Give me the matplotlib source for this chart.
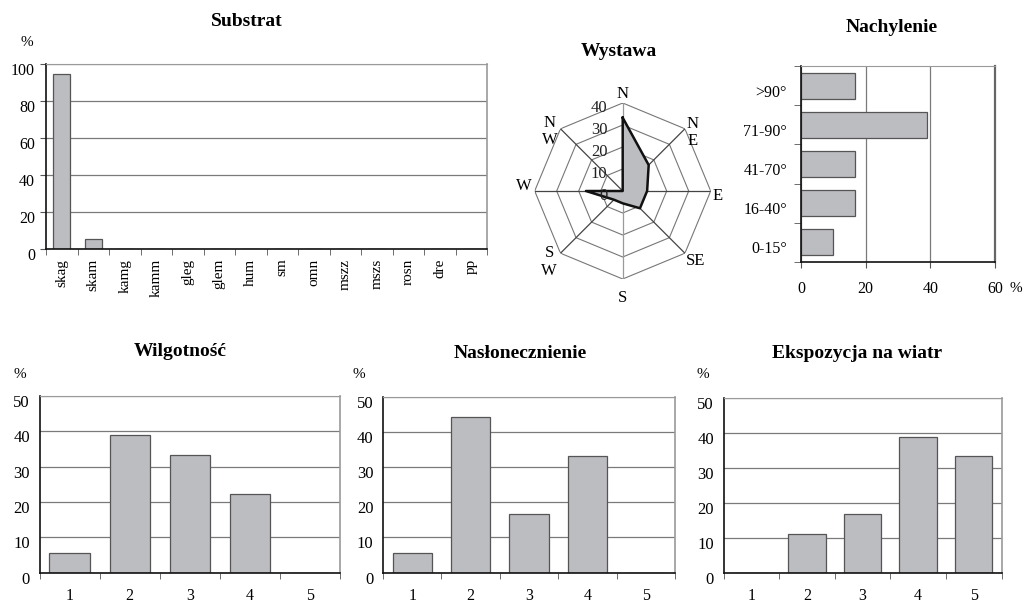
import numpy as np
import matplotlib
matplotlib.use("Agg")
import matplotlib.pyplot as plt
from matplotlib import transforms

plt.rcParams['font.family'] = ['Liberation Serif', 'DejaVu Serif']

# ---- data ----
substrat_labels = ["skag", "skam", "kamg", "kamm", "gleg", "glem", "hum", "sm",
                   "omn", "mszz", "mszs", "rosn", "dre", "pp"]
substrat_values = [94.4, 5.6, 0, 0, 0, 0, 0, 0, 0, 0, 0, 0, 0, 0]

wystawa_labels = ["N", "N\nE", "E", "SE", "S", "S\nW", "W", "N\nW"]
wystawa_values = [33.3, 16.7, 11.1, 11.1, 5.6, 5.6, 16.7, 0.0]
wystawa_rings = [10, 20, 30, 40]

nachylenie_labels = ["0-15°", "16-40°", "41-70°", "71-90°", ">90°"]
nachylenie_values = [10.0, 16.7, 16.7, 38.9, 16.7]

klasy = ["1", "2", "3", "4", "5"]
wilgotnosc_values = [5.6, 38.9, 33.3, 22.2, 0]
naslonecznienie_values = [5.6, 44.4, 16.7, 33.3, 0]
wiatr_values = [0, 11.1, 16.7, 38.9, 33.3]

# ---- styling ----
W, H = 1031, 603
BAR = "#bcbdc1"
EDGE = "#555555"
GRID = "#7a7a7a"

fig = plt.figure(figsize=(W / 100, H / 100), dpi=100)
# value labels sit slightly below their gridline
LABEL_DROP = transforms.ScaledTranslation(0, -5 / 100, fig.dpi_scale_trans)


def rect(left, top, right, bottom):
    return [left / W, 1 - bottom / H, (right - left) / W, (bottom - top) / H]


def ftext(x, y, s, **kw):
    fig.text(x / W, 1 - y / H, s, **kw)


def drop_ylabels(ax):
    for lab in ax.get_yticklabels():
        lab.set_transform(lab.get_transform() + LABEL_DROP)


def style_box(ax):
    ax.spines['left'].set_color('#111111')
    ax.spines['bottom'].set_color('#111111')
    ax.spines['left'].set_linewidth(1.2)
    ax.spines['bottom'].set_linewidth(1.2)
    ax.spines['top'].set_color('#9a9a9a')
    ax.spines['right'].set_color('#9a9a9a')
    ax.spines['right'].set_linewidth(1.2)
    ax.set_axisbelow(True)


# ---- Substrat ----
ax = fig.add_axes(rect(46, 64, 487, 249))
x = np.arange(len(substrat_labels))
ax.bar(x, substrat_values, width=0.55, color=BAR, edgecolor=EDGE, linewidth=0.9)
ax.set_xlim(-0.5, len(substrat_labels) - 0.5)
ax.set_ylim(0, 100)
ax.set_yticks(range(0, 101, 20))
ax.yaxis.grid(True, color=GRID, linewidth=0.9)
ax.set_xticks(x)
ax.set_xticklabels(substrat_labels, rotation=90, fontsize=11)
ax.set_xticks(np.arange(-0.5, len(substrat_labels), 1), minor=True)
ax.tick_params(axis='x', which='major', length=0, pad=7)
ax.tick_params(axis='x', which='minor', length=4, color='#555555')
ax.tick_params(axis='y', length=4, labelsize=11.5, pad=4, color='#555555')
style_box(ax)
drop_ylabels(ax)
ftext(247, 22, "Substrat", ha='center', va='center', fontsize=14, fontweight='bold')
ftext(27, 43, "%", ha='center', va='center', fontsize=11)

# ---- Wystawa (radar) ----
cx, cy, R = 622.7, 191, 88
pax = fig.add_axes(rect(cx - R, cy - R, cx + R, cy + R), projection='polar')
pax.set_theta_zero_location('N')
pax.set_theta_direction(-1)
pax.set_ylim(0, 40)
pax.grid(False)
pax.set_xticks([])
pax.set_yticks([])
pax.spines['polar'].set_visible(False)
pax.patch.set_alpha(0)
n = len(wystawa_values)
theta = np.arange(n) * 2 * np.pi / n
theta_c = np.append(theta, theta[0])
for r in wystawa_rings:
    pax.plot(theta_c, [r] * (n + 1), color='#777777', linewidth=0.8, zorder=1)
for i, t in enumerate(theta):
    col = '#9a9a9a' if i in (0, 4) else '#444444'
    pax.plot([t, t], [0, 40], color=col, linewidth=0.9, zorder=1)
vals_c = np.append(wystawa_values, wystawa_values[0])
pax.fill(theta_c, vals_c, color=BAR, zorder=2)
pax.plot(theta_c, vals_c, color='#111111', linewidth=1.8, zorder=3)
off = transforms.offset_copy(pax.transData, fig=fig, x=-11, y=-3.5, units='points')
for r in [0] + wystawa_rings:
    pax.text(0, r, str(r), transform=off, ha='right', va='center',
             fontsize=12, color='#222222', zorder=4)
lab_pos = [(0, 44.1), (50, 41.6), (93, 43.0), (134, 46.0),
           (180, 48.6), (226, 46.5), (273, 45.2), (309, 42.8)]
for s, (ang, rr) in zip(wystawa_labels, lab_pos):
    pax.text(np.deg2rad(ang), rr, s, ha='center', va='center', fontsize=12,
             linespacing=1.1, clip_on=False)
ftext(619, 52, "Wystawa", ha='center', va='center', fontsize=14, fontweight='bold')

# ---- Nachylenie ----
ax = fig.add_axes(rect(801, 66, 995, 262))
y = np.arange(len(nachylenie_labels))
ax.barh(y, nachylenie_values, height=0.66, color=BAR, edgecolor=EDGE, linewidth=0.9)
ax.set_xlim(0, 60)
ax.set_ylim(-0.5, len(nachylenie_labels) - 0.5)
ax.set_xticks([0, 20, 40, 60])
ax.xaxis.grid(True, color=GRID, linewidth=0.9)
ax.set_yticks(y)
ax.set_yticklabels(nachylenie_labels, fontsize=11.5)
ax.set_yticks(np.arange(-0.5, len(nachylenie_labels), 1), minor=True)
ax.tick_params(axis='y', which='major', length=0, pad=10)
ax.tick_params(axis='y', which='minor', length=5, color='#555555')
ax.tick_params(axis='x', length=4, labelsize=11.5, pad=10, color='#555555')
style_box(ax)
drop_ylabels(ax)
ax.spines['right'].set_color('#666666')
ax.spines['right'].set_linewidth(1.6)
ftext(892, 28, "Nachylenie", ha='center', va='center', fontsize=14, fontweight='bold')
ftext(1016, 289, "%", ha='center', va='center', fontsize=11)


# ---- bottom row ----
def bottom_chart(box, values, title, title_xy, pct_xy):
    ax = fig.add_axes(rect(*box))
    xi = np.arange(len(klasy))
    ax.bar(xi, values, width=0.67, color=BAR, edgecolor=EDGE, linewidth=0.9)
    ax.set_xlim(-0.5, len(klasy) - 0.5)
    ax.set_ylim(0, 50)
    ax.set_yticks(range(0, 51, 10))
    ax.yaxis.grid(True, color=GRID, linewidth=0.9)
    ax.set_xticks(xi)
    ax.set_xticklabels(klasy, fontsize=11.5)
    ax.set_xticks(np.arange(-0.5, len(klasy), 1), minor=True)
    ax.tick_params(axis='x', which='major', length=0, pad=11.5)
    ax.tick_params(axis='x', which='minor', length=4, color='#555555')
    ax.tick_params(axis='y', length=0, labelsize=12, pad=7)
    style_box(ax)
    drop_ylabels(ax)
    ftext(*title_xy, title, ha='center', va='center', fontsize=14, fontweight='bold')
    ftext(*pct_xy, "%", ha='center', va='center', fontsize=11)
    return ax


bottom_chart((39.5, 396, 340, 572.5), wilgotnosc_values, "Wilgotność",
             (180, 352), (20, 374))
bottom_chart((383, 397, 675, 572.5), naslonecznienie_values, "Nasłonecznienie",
             (520, 353), (359, 374))
bottom_chart((723.5, 398, 1001.5, 572.5), wiatr_values, "Ekspozycja na wiatr",
             (857, 354), (703, 375))

fig.savefig("out.png", dpi=100)
